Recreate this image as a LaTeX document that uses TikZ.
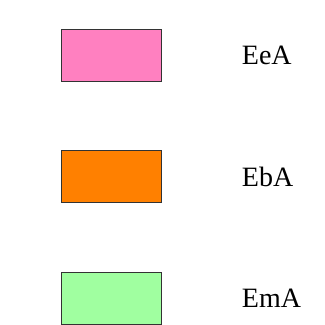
\documentclass[tikz,border=0pt]{standalone}
\usepackage{fontspec}
\setmainfont{Liberation Serif}
\usetikzlibrary{
  positioning
}
\tikzset{
  swatch/.style={draw=black!80, line width=0.8pt, minimum width=100pt, minimum height=52pt, inner sep=0pt},
  tag/.style={inner sep=0pt, anchor=west},
}
\definecolor{eecol}{HTML}{FF80C0}
\definecolor{ebcol}{HTML}{FF8000}
\definecolor{emcol}{HTML}{A0FFA0}

\begin{document}
\begin{tikzpicture}
      \fontsize{28}{32}\selectfont
      \useasboundingbox (0,0) rectangle (325pt,325pt);
      \node (ee) [swatch, fill=eecol] at (111.3pt,269.5pt) {};
      \node (eb) [swatch, fill=ebcol, below = 68.5pt of ee] {};
      \node (em) [swatch, fill=emcol, below = 68.5pt of eb] {};
      \node (eetag) [tag, right = 80pt of ee] {EeA};
      \node (ebtag) [tag, right = 80pt of eb] {EbA};
      \node (emtag) [tag, right = 80pt of em] {EmA};
    \end{tikzpicture}
\end{document}
